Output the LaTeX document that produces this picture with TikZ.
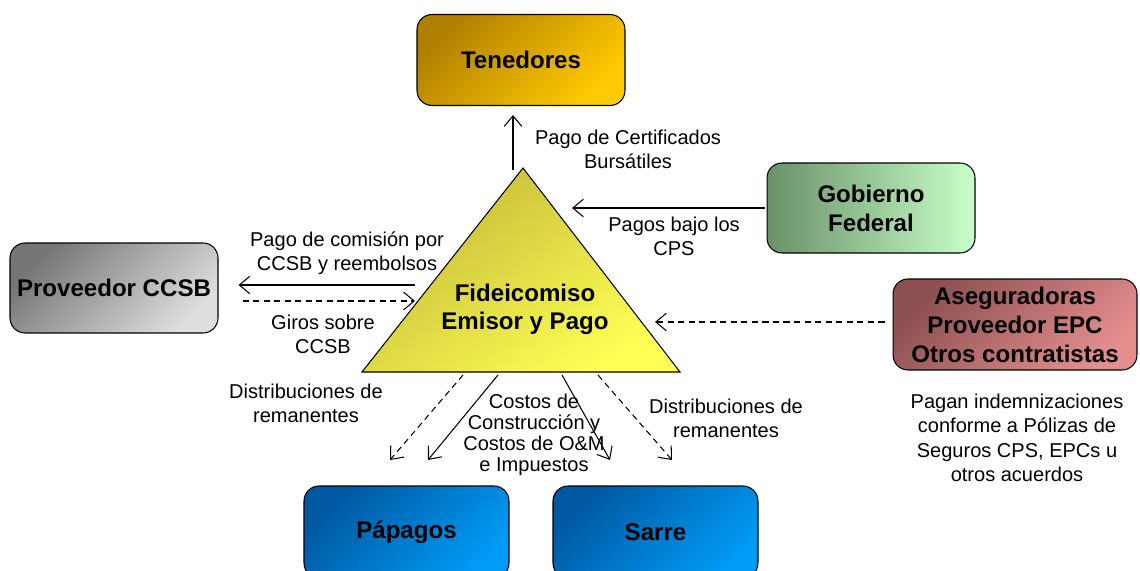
\documentclass[tikz,border=0pt]{standalone}
\usepackage{fontspec}
\setmainfont{Liberation Sans}
\usetikzlibrary{
    arrows.meta,
    calc
}
\definecolor{goldA}{RGB}{178,128,0}
\definecolor{goldB}{RGB}{255,202,0}
\definecolor{greenA}{RGB}{105,145,105}
\definecolor{greenB}{RGB}{200,255,200}
\definecolor{grayA}{RGB}{118,118,118}
\definecolor{grayB}{RGB}{222,222,222}
\definecolor{redA}{RGB}{140,80,80}
\definecolor{redB}{RGB}{228,142,142}
\definecolor{blueA}{RGB}{0,88,160}
\definecolor{blueB}{RGB}{0,155,245}
\definecolor{oliveA}{RGB}{195,185,55}
\definecolor{oliveB}{RGB}{255,255,85}
\tikzset {
    box/.style = {
        draw, line width = 0.6pt, rounded corners = 0.3cm,
        minimum width = 4.16cm, minimum height = 1.82cm,
        inner sep = 0pt, align = center,
        font = \bfseries\fontsize{13.7}{16.5}\selectfont
    },
    diag box/.style 2 args = {
        box, top color = #1, bottom color = #2, shading angle = 45
    },
    flow/.style = {line width = 0.6pt, -{Straight Barb[length = 6pt, width = 10pt]}},
    giro/.style = {flow, dash pattern = on 3.5pt off 2.5pt},
    lbl/.style = {
        align = center, inner sep = 0pt,
        font = \fontsize{11.4}{13.7}\selectfont
    }
}

\begin{document}
\begin{tikzpicture}[x = 0.02cm, y = -0.02cm]
    \useasboundingbox (0, 0) rectangle (1140, 571);
    % boxes
    \node (ten) [diag box = {goldA}{goldB}] at (521, 60) {Tenedores};
    \node (gob) [box, left color = greenA, right color = greenB,
        minimum height = 1.80cm] at (871, 208) {Gobierno\\Federal};
    \node (ccsb) [diag box = {grayA}{grayB}, minimum height = 1.80cm]
        at (114, 288) {Proveedor CCSB};
    \node (aseg) [diag box = {redA}{redB}, minimum width = 4.88cm]
        at (1015, 324.5) {Aseguradoras\\Proveedor EPC\\Otros contratistas};
    \node (pap) [diag box = {blueA}{blueB}, minimum width = 4.1cm,
        minimum height = 1.84cm] at (406.5, 532) {Pápagos};
    \node (sar) [diag box = {blueA}{blueB}, minimum width = 4.1cm,
        minimum height = 1.84cm] at (655.5, 532) {Sarre};
    % trust triangle
    \shade [draw, line width = 0.6pt, top color = oliveA, bottom color = oliveB,
        shading angle = 35] (523, 168) -- (362, 372) -- (680, 372) -- cycle;
    \node (fid) [align = center, font = \bfseries\fontsize{13.7}{16}\selectfont]
        at (525, 309) {Fideicomiso\\Emisor y Pago};
    % connector ends
    \coordinate (t1) at (513, 170);
    \coordinate (g1) at (572, 208);
    \coordinate (c1) at (415, 285);
    \coordinate (c2) at (415, 301);
    \coordinate (a1) at (655, 322);
    \coordinate (d1) at (463, 375);
    \coordinate (d2) at (390, 460);
    \coordinate (s1) at (498, 375);
    \coordinate (s2) at (428, 460);
    \coordinate (s3) at (562, 375);
    \coordinate (s4) at (610, 460);
    \coordinate (d3) at (598, 375);
    \coordinate (d4) at (672, 460);
    % flows
    \draw [flow, shorten >= 0.18cm] (t1) -- (t1 |- ten.south);
    \draw [flow, shorten <= 0.04cm] (gob.west) -- (g1);
    \draw [flow, shorten >= 0.4cm] (c1) -- (c1 -| ccsb.east);
    \draw [giro, shorten <= 0.48cm] (c2 -| ccsb.east) -- (c2);
    \draw [giro, shorten <= 0.16cm] (a1 -| aseg.west) -- (a1);
    \draw [giro] (d1) -- (d2);
    \draw [flow] (s1) -- (s2);
    \draw [flow] (s3) -- (s4);
    \draw [giro] (d3) -- (d4);
    % labels
    \node (lcert) [lbl] at (628, 149) {Pago de Certificados\\Bursátiles};
    \node (lcps) [lbl] at (674, 236) {Pagos bajo los\\CPS};
    \node (lcom) [lbl] at (347, 253) {Pago de comisión por\\CCSB y reembolsos};
    \node (lgiro) [lbl] at (323, 334) {Giros sobre\\CCSB};
    \node (ldist) [lbl] at (306, 403) {Distribuciones de\\remanentes};
    \node (lcost) [lbl, font = \fontsize{11.4}{11.9}\selectfont] at (534, 435)
        {Costos de\\Construcción y\\Costos de O\&M\\e Impuestos};
    \node (ldistb) [lbl] at (726, 418) {Distribuciones de\\remanentes};
    \node (lpagan) [lbl, font = \fontsize{11.4}{13.9}\selectfont] at (1017, 438)
        {Pagan indemnizaciones\\conforme a Pólizas de\\Seguros CPS, EPCs u\\otros acuerdos};
\end{tikzpicture}
\end{document}
